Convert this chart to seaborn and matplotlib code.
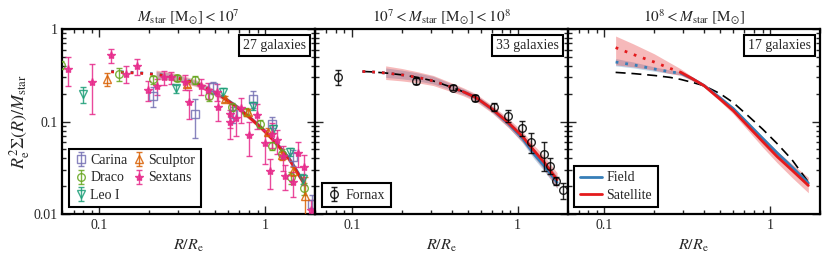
import numpy as np
import matplotlib
matplotlib.use("Agg")
import matplotlib.pyplot as plt
from matplotlib.ticker import FixedLocator, FixedFormatter, LogLocator, NullFormatter
import seaborn as sns

# ---------------- data ----------------
# model curves, panel 1 (Mstar < 1e7)
r1 = [0.118, 0.15, 0.19, 0.22, 0.26, 0.31, 0.38, 0.46, 0.55, 0.66, 0.8, 0.97, 1.15, 1.4, 1.7]
sat1 = [0.345, 0.338, 0.33, 0.322, 0.31, 0.29, 0.26, 0.223, 0.185, 0.148, 0.112, 0.082, 0.06, 0.039, 0.022]
field1 = [0.35, 0.342, 0.334, 0.325, 0.313, 0.293, 0.262, 0.225, 0.187, 0.15, 0.113, 0.083, 0.061, 0.04, 0.0225]
sat1_lo = [0.285, 0.28, 0.265, 0.24, 0.207, 0.173, 0.139, 0.105, 0.077, 0.056, 0.036, 0.020]
sat1_hi = [0.36, 0.345, 0.32, 0.285, 0.24, 0.198, 0.158, 0.12, 0.088, 0.064, 0.042, 0.024]
field1_lo = [0.29, 0.283, 0.27, 0.245, 0.212, 0.177, 0.143, 0.108, 0.079, 0.058, 0.037, 0.021]
field1_hi = [0.35, 0.338, 0.312, 0.278, 0.236, 0.195, 0.155, 0.118, 0.086, 0.063, 0.041, 0.0235]
band1_from = 0.22
solid1_from = 0.55

# model curves, panel 2 (1e7 < Mstar < 1e8)
r2 = [0.116, 0.13, 0.16, 0.2, 0.25, 0.31, 0.4, 0.47, 0.56, 0.7, 0.88, 1.07, 1.25, 1.45, 1.73]
sat2 = [0.348, 0.345, 0.335, 0.32, 0.30, 0.275, 0.235, 0.21, 0.182, 0.137, 0.097, 0.069, 0.049, 0.036, 0.0235]
field2 = [0.348, 0.345, 0.335, 0.32, 0.30, 0.275, 0.235, 0.21, 0.182, 0.136, 0.095, 0.066, 0.045, 0.033, 0.022]
dash2 = [0.348, 0.345, 0.335, 0.32, 0.30, 0.275, 0.235, 0.21, 0.182, 0.137, 0.097, 0.069, 0.049, 0.036, 0.0235]
sat2_lo = [0.285, 0.275, 0.262, 0.245, 0.21, 0.19, 0.165, 0.124, 0.086, 0.060, 0.042, 0.030, 0.019]
sat2_hi = [0.40, 0.375, 0.345, 0.315, 0.262, 0.232, 0.2, 0.15, 0.108, 0.078, 0.056, 0.042, 0.028]
field2_lo = [0.30, 0.29, 0.275, 0.255, 0.218, 0.196, 0.17, 0.127, 0.087, 0.059, 0.040, 0.029, 0.019]
field2_hi = [0.38, 0.36, 0.335, 0.308, 0.255, 0.226, 0.195, 0.146, 0.104, 0.074, 0.051, 0.038, 0.026]
band2_from = 0.16
solid2_from = 0.47

# model curves, panel 3 (Mstar > 1e8)
r3 = [0.117, 0.15, 0.2, 0.25, 0.29, 0.34, 0.4, 0.5, 0.6, 0.75, 0.9, 1.1, 1.35, 1.7]
sat3 = [0.63, 0.53, 0.44, 0.375, 0.34, 0.29, 0.244, 0.174, 0.131, 0.086, 0.061, 0.042, 0.030, 0.0204]
field3 = [0.44, 0.41, 0.37, 0.345, 0.332, 0.29, 0.245, 0.18, 0.138, 0.092, 0.066, 0.046, 0.0325, 0.0216]
dash3 = [0.34, 0.33, 0.315, 0.30, 0.285, 0.265, 0.244, 0.20, 0.16, 0.112, 0.083, 0.058, 0.039, 0.0222]
sat3_lo = [0.41, 0.39, 0.36, 0.33, 0.315, 0.275, 0.235, 0.165, 0.121, 0.077, 0.053, 0.036, 0.025, 0.017]
sat3_hi = [0.84, 0.69, 0.54, 0.43, 0.37, 0.305, 0.254, 0.184, 0.14, 0.094, 0.068, 0.048, 0.035, 0.025]
field3_lo = [0.40, 0.38, 0.35, 0.33, 0.32, 0.28, 0.238, 0.174, 0.133, 0.088, 0.063, 0.044, 0.031, 0.0205]
field3_hi = [0.48, 0.44, 0.39, 0.36, 0.345, 0.30, 0.252, 0.186, 0.143, 0.096, 0.069, 0.048, 0.034, 0.0228]
band3_from = 0.117
solid3_from = 0.29

# individual galaxy profiles (R/Re, value, fractional error)
carina_r = [0.21, 0.377, 0.486, 0.64, 0.84, 1.10, 1.47, 1.92]
carina_y = [0.19, 0.12, 0.235, 0.12, 0.177, 0.094, 0.041, 0.013]
carina_e = [0.25, 0.45, 0.15, 0.2, 0.2, 0.2, 0.2, 0.25]

draco_r = [0.059, 0.131, 0.21, 0.296, 0.38, 0.46, 0.63, 0.77, 0.93, 1.10, 1.26, 1.44, 1.71]
draco_y = [0.41, 0.326, 0.286, 0.295, 0.28, 0.187, 0.143, 0.128, 0.094, 0.055, 0.045, 0.025, 0.019]
draco_e = [0.1, 0.15, 0.1, 0.08, 0.1, 0.1, 0.1, 0.1, 0.1, 0.1, 0.12, 0.15, 0.15]

leo_r = [0.08, 0.29, 0.56, 0.85, 1.12, 1.42, 1.69]
leo_y = [0.197, 0.228, 0.21, 0.147, 0.084, 0.047, 0.024]
leo_e = [0.2, 0.1, 0.1, 0.1, 0.1, 0.1, 0.12]

sculptor_r = [0.111, 0.337, 0.57, 0.79, 1.04, 1.26, 1.48, 1.73]
sculptor_y = [0.288, 0.255, 0.176, 0.128, 0.078, 0.043, 0.029, 0.0158]
sculptor_e = [0.15, 0.08, 0.08, 0.08, 0.08, 0.1, 0.12, 0.6]

sextans_r = [0.065, 0.091, 0.118, 0.145, 0.169, 0.196, 0.224, 0.245, 0.27, 0.328, 0.35,
             0.41, 0.45, 0.51, 0.52, 0.61, 0.61, 0.67, 0.72, 0.80, 0.89, 1.0, 1.07,
             1.10, 1.18, 1.29, 1.31, 1.48, 1.59, 1.72, 1.9]
sextans_y = [0.37, 0.27, 0.52, 0.33, 0.40, 0.22, 0.24, 0.30, 0.30, 0.27, 0.164,
             0.24, 0.22, 0.21, 0.144, 0.10, 0.122, 0.108, 0.139, 0.071, 0.118, 0.058, 0.029,
             0.074, 0.063, 0.042, 0.026, 0.022, 0.046, 0.032, 0.011]
sextans_e = [0.35, 0.55, 0.18, 0.2, 0.2, 0.25, 0.2, 0.18, 0.15, 0.18, 0.35,
             0.2, 0.2, 0.2, 0.3, 0.35, 0.3, 0.35, 0.3, 0.4, 0.3, 0.4, 0.35,
             0.3, 0.3, 0.3, 0.3, 0.3, 0.3, 0.35, 0.3]

fornax_r = [0.082, 0.245, 0.405, 0.555, 0.716, 0.88, 1.07, 1.21, 1.435, 1.575, 1.70, 1.88]
fornax_y = [0.305, 0.274, 0.232, 0.181, 0.143, 0.115, 0.085, 0.0605, 0.045, 0.0335, 0.0227, 0.018]
fornax_e = [0.18, 0.08, 0.06, 0.07, 0.1, 0.15, 0.18, 0.25, 0.35, 0.2, 0.1, 0.2]

titles = [r"$M_{\rm star}\ [{\rm M}_{\odot}] < 10^7$",
          r"$10^7 < M_{\rm star}\ [{\rm M}_{\odot}] < 10^8$",
          r"$10^8 < M_{\rm star}\ [{\rm M}_{\odot}]$"]
counts = ["27 galaxies", "33 galaxies", "17 galaxies"]

# ---------------- styling ----------------
sns.set_theme(style="ticks")
plt.rcParams["font.family"] = ["Liberation Serif", "DejaVu Serif"]
plt.rcParams["mathtext.fontset"] = "stix"
plt.rcParams["font.size"] = 10
plt.rcParams["axes.linewidth"] = 1.6

RED = "#e41a1c"
BLUE = "#377eb8"
dark2 = sns.color_palette("Dark2", 5)
c_leo, c_scl, c_car, c_sex, c_dra = dark2

fig, axes = plt.subplots(1, 3, figsize=(8.3, 2.64), dpi=100, sharey=True)
fig.subplots_adjust(left=0.0753, right=0.988, top=0.89, bottom=0.189, wspace=0)


def draw_models(ax, r, sat, field, dash, s_lo, s_hi, f_lo, f_hi, band_from, solid_from):
    r = np.asarray(r)
    b = r >= band_from - 1e-9
    ax.fill_between(r[b], f_lo, f_hi, color=BLUE, alpha=0.3, lw=0, zorder=1)
    ax.fill_between(r[b], s_lo, s_hi, color=RED, alpha=0.3, lw=0, zorder=1)
    if dash is not None:
        sns.lineplot(x=r, y=dash, ax=ax, color="black", lw=1.2, linestyle=(0, (6, 3.5)), zorder=2)
    dot = r <= solid_from + 1e-9
    sol = r >= solid_from - 1e-9
    for y, c in [(field, BLUE), (sat, RED)]:
        y = np.asarray(y)
        sns.lineplot(x=r[dot], y=y[dot], ax=ax, color=c, lw=2.0, linestyle=(0, (1, 2.5)), zorder=3)
        sns.lineplot(x=r[sol], y=y[sol], ax=ax, color=c, lw=2.0, zorder=3)


def draw_gal(ax, r, y, e, color, marker, label, filled=False, ms=5.5):
    y = np.asarray(y)
    yerr = y * np.asarray(e)
    ax.errorbar(r, y, yerr=yerr, fmt=marker, ms=ms, color=color,
                mfc=color if filled else "none", mec=color, mew=1.0,
                ecolor=color, elinewidth=1.0, capsize=2, capthick=1.0,
                alpha=0.85, label=label, zorder=4)


ax1, ax2, ax3 = axes
draw_models(ax1, r1, sat1, field1, None, sat1_lo, sat1_hi, field1_lo, field1_hi, band1_from, solid1_from)
draw_gal(ax1, carina_r, carina_y, carina_e, c_car, "s", "Carina")
draw_gal(ax1, draco_r, draco_y, draco_e, c_dra, "o", "Draco")
draw_gal(ax1, leo_r, leo_y, leo_e, c_leo, "v", "Leo I")
draw_gal(ax1, sculptor_r, sculptor_y, sculptor_e, c_scl, "^", "Sculptor")
draw_gal(ax1, sextans_r, sextans_y, sextans_e, c_sex, "*", "Sextans", filled=True, ms=6)

draw_models(ax2, r2, sat2, field2, dash2, sat2_lo, sat2_hi, field2_lo, field2_hi, band2_from, solid2_from)
draw_gal(ax2, fornax_r, fornax_y, fornax_e, "black", "o", "Fornax")

draw_models(ax3, r3, sat3, field3, dash3, sat3_lo, sat3_hi, field3_lo, field3_hi, band3_from, solid3_from)
ax3.plot([], [], color=BLUE, lw=2.0, label="Field")
ax3.plot([], [], color=RED, lw=2.0, label="Satellite")

for i, ax in enumerate(axes):
    ax.set_xscale("log")
    ax.set_yscale("log")
    ax.set_xlim(0.06, 2.0)
    ax.set_ylim(0.01, 1)
    ax.xaxis.set_major_locator(FixedLocator([0.1, 1]))
    ax.xaxis.set_major_formatter(FixedFormatter(["0.1", "1"]))
    ax.xaxis.set_minor_locator(LogLocator(base=10, subs=np.arange(2, 10)))
    ax.xaxis.set_minor_formatter(NullFormatter())
    ax.yaxis.set_major_locator(FixedLocator([0.01, 0.1, 1]))
    ax.yaxis.set_major_formatter(FixedFormatter(["0.01", "0.1", "1"]))
    ax.yaxis.set_minor_locator(LogLocator(base=10, subs=np.arange(2, 10)))
    ax.yaxis.set_minor_formatter(NullFormatter())
    ax.tick_params(which="both", direction="in", top=True, right=True, width=1.0)
    ax.tick_params(which="major", length=6, labelsize=10)
    ax.tick_params(which="minor", length=3)
    if i > 0:
        ax.tick_params(labelleft=False)
    ax.set_xlabel(r"$R/R_{\rm e}$", fontsize=11.5)
    ax.set_title(titles[i], fontsize=11, pad=5)
    ax.text(0.965, 0.945, counts[i], transform=ax.transAxes, ha="right", va="top", fontsize=10,
            bbox=dict(boxstyle="square,pad=0.3", fc="white", ec="black", lw=1.5), zorder=6)
    for s in ax.spines.values():
        s.set_linewidth(1.6)
        s.set_color("black")

ax1.set_ylabel(r"$R_{\rm e}^2\Sigma(R)/M_{\rm star}$", fontsize=13, labelpad=1)

leg_kw = dict(loc="lower left", frameon=True, fancybox=False, edgecolor="black",
              framealpha=1, borderaxespad=0.5, handletextpad=0.3, borderpad=0.4,
              labelspacing=0.3, fontsize=10)
l1 = ax1.legend(ncol=2, columnspacing=0.4, handlelength=0.8, **leg_kw)
l2 = ax2.legend(handlelength=1.0, **leg_kw)
l3 = ax3.legend(handlelength=1.6, **leg_kw)
for lg in (l1, l2, l3):
    lg.get_frame().set_linewidth(1.5)
    lg.set_zorder(7)

fig.savefig("out.png", dpi=100)
